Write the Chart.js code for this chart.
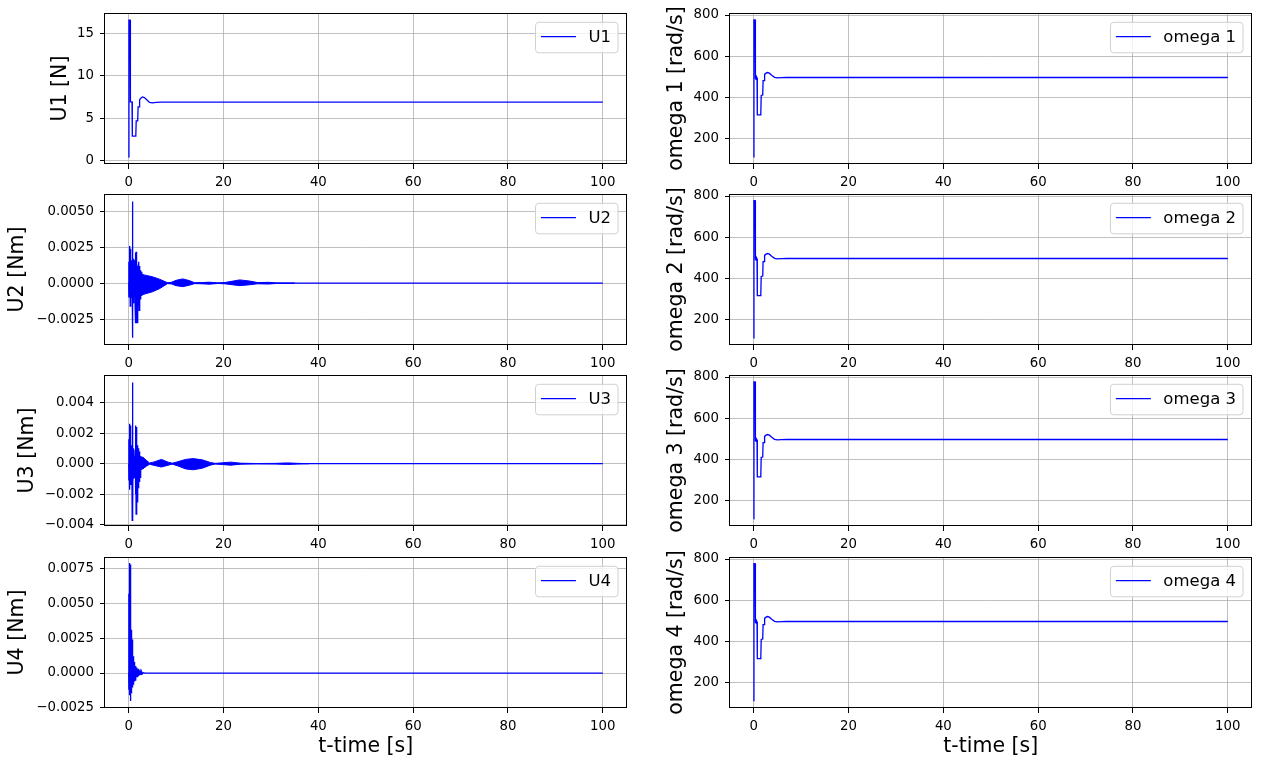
<!DOCTYPE html>
<html>
<head>
<meta charset="utf-8">
<script src="https://cdn.jsdelivr.net/npm/chart.js@4.4.1/dist/chart.umd.min.js"></script>
<style>
  body { margin: 0; background: #fff; }
  #fig { position: relative; width: 1264px; height: 761px; overflow: hidden; background: #fff; }
  #fig canvas { position: absolute; }
</style>
</head>
<body>
<div id="fig">
  <canvas id="u1"></canvas>
  <canvas id="u2"></canvas>
  <canvas id="u3"></canvas>
  <canvas id="u4"></canvas>
  <canvas id="w1"></canvas>
  <canvas id="w2"></canvas>
  <canvas id="w3"></canvas>
  <canvas id="w4"></canvas>
</div>
<script>
// shared time ticks
const TIME_TICKS = [0, 20, 40, 60, 80, 100];

// y ticks per panel
const U1_TICKS = [0, 5, 10, 15];
const U2_TICKS = [-0.0025, 0, 0.0025, 0.005];
const U3_TICKS = [-0.004, -0.002, 0, 0.002, 0.004];
const U4_TICKS = [-0.0025, 0, 0.0025, 0.005, 0.0075];
const OMEGA_TICKS = [200, 400, 600, 800];

// thrust U1 [N]  (t, value)
const U1 = [[0, 0.42], [0.05, 16.6], [0.3, 16.6], [0.36, 6.95], [0.7, 6.95], [0.76, 2.9], [1.5, 2.9],
  [1.58, 4.7], [1.9, 4.7], [1.98, 6.35], [2.2, 6.35], [2.3, 7.2], [2.6, 7.4], [2.9, 7.52], [3.3, 7.45],
  [3.8, 7.2], [4.4, 6.88], [5.0, 6.83], [5.8, 6.88], [7, 6.92], [100, 6.92]];

// torque U2 [Nm] spikes (t, value)
const U2 = [[0, 0], [0.02, 0.0015], [0.06, -0.001], [0.1, 0.0014], [0.14, -0.0008], [0.18, 0.0012],
  [0.22, -0.0005], [0.27, 0.0026], [0.32, -0.0016], [0.37, 0.0024], [0.42, -0.0012], [0.47, 0.0008],
  [0.52, -0.001], [0.57, 0.0006], [0.62, -0.0005], [0.7, 0.0016], [0.75, -0.0038], [0.8, 0.0057],
  [0.85, -0.0032], [0.9, 0.0015], [0.95, -0.0012], [1.0, 0.0008], [1.05, -0.0014], [1.1, 0.0017],
  [1.15, -0.0008], [1.2, 0.0016], [1.25, -0.0004], [1.3, 0.001], [1.36, -0.0017], [1.42, 0.0021],
  [1.48, -0.0028], [1.54, 0.0022], [1.6, -0.0028], [1.66, 0.0018], [1.72, -0.0022], [1.78, 0.0012],
  [1.84, -0.0028], [1.9, 0.0011], [1.96, -0.0018], [2.02, 0.0013], [2.08, -0.0015], [2.14, 0.0015],
  [2.2, -0.0019], [2.26, 0.0012], [2.32, -0.0012], [2.38, 0.001], [2.44, -0.0011], [2.5, 0.0009],
  [2.56, -0.001], [2.62, 0.0008], [2.68, -0.0009], [2.74, 0.0007], [2.8, -0.0009], [2.86, 0.0006],
  [2.92, -0.0008], [3.0, 0], [100, 0]];
// U2 fast oscillation envelope (t, upper, lower)
const U2_BAND = [[2.5, 0.0007, -0.00085], [3.2, 0.00058, -0.00077], [5, 0.00045, -0.0006],
  [6.5, 0.00028, -0.00038], [8.2, 0.00003, -0.00003], [9, 0.00006, -0.00005], [10, 0.0002, -0.00017],
  [11.4, 0.0003, -0.00024], [12.8, 0.00018, -0.00014], [13.9, 0.00003, -0.00003], [15.3, 0.00004, -0.00004],
  [17, 0.00007, -0.00007], [18.8, 0.00002, -0.00002], [20.2, 0.00004, -0.00004], [23.4, 0.00023, -0.00017],
  [25.5, 0.00015, -0.00011], [27.2, 0.00004, -0.00004], [29.5, 0.00006, -0.00006], [31.4, 0.00001, -0.00001],
  [35, 0, 0]];

// torque U3 [Nm] spikes (t, value)
const U3 = [[0, 0], [0.02, 0.0016], [0.06, -0.0011], [0.1, 0.0015], [0.14, -0.0009], [0.2, 0.0026],
  [0.25, -0.0017], [0.3, 0.0025], [0.35, -0.0014], [0.42, 0.0006], [0.48, -0.0009], [0.54, 0.0005],
  [0.6, -0.0007], [0.68, 0.0012], [0.74, -0.0037], [0.8, 0.0053], [0.86, -0.003], [0.92, 0.001],
  [0.98, -0.001], [1.05, 0.0006], [1.12, -0.0009], [1.2, 0.0005], [1.28, -0.0008], [1.36, 0.0009],
  [1.44, -0.002], [1.5, 0.0025], [1.56, -0.0033], [1.62, 0.0024], [1.68, -0.003], [1.74, 0.0013],
  [1.8, -0.0025], [1.86, 0.0012], [1.92, -0.0024], [1.98, 0.001], [2.04, -0.0016], [2.1, 0.0008],
  [2.16, -0.0013], [2.22, 0.0008], [2.28, -0.0012], [2.34, 0.0006], [2.4, -0.0009], [2.48, 0.0005],
  [2.56, -0.0006], [2.64, 0.0004], [2.72, -0.0004], [2.8, 0.0004], [2.9, -0.0003], [3.0, 0], [100, 0]];
const U3_BAND = [[2.0, 0.00045, -0.00035], [3.0, 0.00042, -0.00033], [3.8, 0.0002, -0.00015],
  [4.4, 0.00004, -0.00004], [5.2, 0.0001, -0.0001], [6.9, 0.00028, -0.00022], [8.3, 0.0001, -0.0001],
  [9.2, 0.00003, -0.00003], [10.3, 0.00012, -0.00014], [12, 0.00028, -0.00034], [13.6, 0.00033, -0.0004],
  [15.5, 0.00025, -0.0003], [17.2, 0.00008, -0.0001], [18.2, 0.00002, -0.00002], [19.5, 0.00005, -0.00005],
  [21.5, 0.0001, -0.0001], [23.7, 0.00003, -0.00003], [27, 0.00001, -0.00001], [31, 0.00002, -0.00002],
  [33.5, 0.00005, -0.00005], [35.7, 0.00002, -0.00002], [38, 0, 0]];

// torque U4 [Nm] (t, value)
const U4 = [[0, 0], [0.02, 0.0057], [0.05, -0.0012], [0.08, 0.0056], [0.11, -0.0013], [0.14, 0.005],
  [0.18, -0.0009], [0.22, 0.0079], [0.26, -0.0016], [0.3, 0.0078], [0.34, -0.002], [0.38, 0.0065],
  [0.42, -0.0018], [0.46, 0.0031], [0.5, -0.0014], [0.55, 0.0031], [0.6, -0.0012], [0.65, 0.003],
  [0.7, -0.001], [0.76, 0.0024], [0.82, -0.0009], [0.88, 0.0012], [0.94, -0.0008], [1.0, 0.0012],
  [1.06, -0.0007], [1.12, 0.0008], [1.2, -0.0006], [1.28, 0.0006], [1.36, -0.0005], [1.44, 0.0005],
  [1.52, -0.0004], [1.6, 0.0004], [1.7, -0.0003], [1.8, 0.0003], [1.9, -0.0003], [2.0, 0.0003],
  [2.1, -0.0002], [2.2, 0.0002], [2.3, -0.00015], [2.45, 0.00012], [2.6, -0.0001], [2.75, 0.00008],
  [2.9, -0.00005], [3.1, 0.00003], [3.4, 0], [100, 0]];

// rotor speeds [rad/s] (t, value)
const OMEGA_1 = [[0, 111], [0.05, 776], [0.3, 776], [0.36, 492], [0.5, 488], [0.55, 500], [0.65, 500],
  [0.7, 495], [0.76, 316], [1.4, 316], [1.5, 322], [1.58, 410], [1.9, 412], [1.98, 482], [2.2, 482],
  [2.3, 512], [2.6, 518], [2.9, 521], [3.3, 518], [3.8, 508], [4.4, 498], [5.0, 495], [5.8, 496],
  [7, 497], [100, 497]];
const OMEGA_2 = [[0, 111], [0.05, 777], [0.3, 777], [0.36, 493], [0.5, 489], [0.55, 500], [0.65, 500],
  [0.7, 495], [0.76, 317], [1.4, 317], [1.5, 323], [1.58, 410], [1.9, 412], [1.98, 482], [2.2, 482],
  [2.3, 512], [2.6, 518], [2.9, 521], [3.3, 518], [3.8, 508], [4.4, 498], [5.0, 495], [5.8, 496],
  [7, 497], [100, 497]];
const OMEGA_3 = [[0, 112], [0.05, 776], [0.3, 776], [0.36, 492], [0.5, 488], [0.55, 499], [0.65, 499],
  [0.7, 495], [0.76, 316], [1.4, 316], [1.5, 322], [1.58, 411], [1.9, 412], [1.98, 482], [2.2, 482],
  [2.3, 512], [2.6, 518], [2.9, 521], [3.3, 518], [3.8, 508], [4.4, 498], [5.0, 495], [5.8, 496],
  [7, 497], [100, 497]];
const OMEGA_4 = [[0, 112], [0.05, 777], [0.3, 777], [0.36, 493], [0.5, 489], [0.55, 500], [0.65, 500],
  [0.7, 495], [0.76, 317], [1.4, 317], [1.5, 322], [1.58, 410], [1.9, 412], [1.98, 482], [2.2, 482],
  [2.3, 512], [2.6, 518], [2.9, 521], [3.3, 518], [3.8, 508], [4.4, 498], [5.0, 495], [5.8, 496],
  [7, 497], [100, 497]];

// layout of the 4x2 grid (pixels)
const ROW_TOP = [13, 194, 375, 557];
const PLOT_H = 151;
const PAD_TOP = 14; // must exceed half a tick label + tick padding, else Chart.js pushes the plot down
const COLS = [
  {x: 0, w: 640, plotLeft: 105, padRight: 13.5},
  {x: 640, w: 624, plotLeft: 90, padRight: 12.5}
];

const panels = [
  {id: 'u1', label: 'U1', ylabel: 'U1 [N]', data: U1, band: null, ticks: U1_TICKS, dec: 0, min: -0.39, max: 17.43, col: 0, row: 0, titleX: 60.2},
  {id: 'u2', label: 'U2', ylabel: 'U2 [Nm]', data: U2, band: U2_BAND, ticks: U2_TICKS, dec: 4, min: -0.00431, max: 0.00622, col: 0, row: 1, titleX: 17.7},
  {id: 'u3', label: 'U3', ylabel: 'U3 [Nm]', data: U3, band: U3_BAND, ticks: U3_TICKS, dec: 3, min: -0.00407, max: 0.00579, col: 0, row: 2, titleX: 27.2},
  {id: 'u4', label: 'U4', ylabel: 'U4 [Nm]', data: U4, band: null, ticks: U4_TICKS, dec: 4, min: -0.00251, max: 0.00833, col: 0, row: 3, titleX: 17.7},
  {id: 'w1', label: 'omega 1', ylabel: 'omega 1 [rad/s]', data: OMEGA_1, band: null, ticks: OMEGA_TICKS, dec: 0, min: 77.6, max: 809.7, col: 1, row: 0, titleX: 36.8},
  {id: 'w2', label: 'omega 2', ylabel: 'omega 2 [rad/s]', data: OMEGA_2, band: null, ticks: OMEGA_TICKS, dec: 0, min: 77.6, max: 809.7, col: 1, row: 1, titleX: 36.8},
  {id: 'w3', label: 'omega 3', ylabel: 'omega 3 [rad/s]', data: OMEGA_3, band: null, ticks: OMEGA_TICKS, dec: 0, min: 77.6, max: 809.7, col: 1, row: 2, titleX: 36.8},
  {id: 'w4', label: 'omega 4', ylabel: 'omega 4 [rad/s]', data: OMEGA_4, band: null, ticks: OMEGA_TICKS, dec: 0, min: 77.6, max: 809.7, col: 1, row: 3, titleX: 36.8}
];

const BLUE = '#0000ff';
const FONT = 'DejaVu Sans';
Chart.defaults.font.family = FONT;
Chart.defaults.font.size = 13.3;
Chart.defaults.color = '#000';

// black box round the plot area (matplotlib spines)
const frame = {
  id: 'frame',
  afterDatasetsDraw(chart) {
    const a = chart.chartArea;
    const ctx = chart.ctx;
    ctx.save();
    ctx.strokeStyle = '#000';
    ctx.lineWidth = 1;
    ctx.strokeRect(Math.round(a.left) - 0.5, Math.round(a.top) + 0.5, Math.round(a.right - a.left), Math.round(a.bottom - a.top) - 1);
    ctx.restore();
  }
};

// legend box in the upper right corner of the plot
const boxLegend = {
  id: 'boxLegend',
  afterDraw(chart) {
    const a = chart.chartArea;
    const ctx = chart.ctx;
    const ds = chart.data.datasets[0];
    ctx.save();
    ctx.font = '16.5px "' + FONT + '"';
    const tw = ctx.measureText(ds.label).width;
    const w = 5.4 + 35 + 12.5 + tw + 7;
    const h = 30.5;
    const x = a.right - 8.5 - w;
    const y = a.top + 9.3;
    ctx.beginPath();
    ctx.roundRect(x, y, w, h, 3.3);
    ctx.fillStyle = 'rgba(255,255,255,0.8)';
    ctx.fill();
    ctx.strokeStyle = '#d0d0d0';
    ctx.lineWidth = 1;
    ctx.stroke();
    ctx.beginPath();
    ctx.moveTo(x + 5.4, y + h / 2 - 1);
    ctx.lineTo(x + 5.4 + 35, y + h / 2 - 1);
    ctx.strokeStyle = ds.borderColor;
    ctx.lineWidth = 1.2;
    ctx.stroke();
    ctx.fillStyle = '#000';
    ctx.textBaseline = 'middle';
    ctx.fillText(ds.label, x + 5.4 + 35 + 12.5, y + h / 2);
    ctx.restore();
  }
};

function pts(arr, k) {
  return arr.map(r => ({x: r[0], y: r[k]}));
}

function fmt(v, dec) {
  return v.toFixed(dec).replace('-', '\u2212');
}

panels.forEach(p => {
  const col = COLS[p.col];
  const last = p.row === 3;
  const xh = last ? 51 : 28; // x axis height, bottom row also holds the title
  const canvas = document.getElementById(p.id);
  canvas.width = col.w;
  canvas.height = PAD_TOP + PLOT_H + xh;
  canvas.style.left = col.x + 'px';
  canvas.style.top = (ROW_TOP[p.row] - PAD_TOP) + 'px';

  const padLeft = p.titleX - 12.3;
  const datasets = [{
    label: p.label,
    data: pts(p.data, 1),
    borderColor: BLUE,
    borderWidth: 1.3,
    pointRadius: 0,
    tension: 0,
    fill: false
  }];
  if (p.band) {
    // dense oscillation drawn as a filled envelope
    datasets.push({data: pts(p.band, 1), borderColor: BLUE, borderWidth: 1, pointRadius: 0, tension: 0, fill: '+1', backgroundColor: BLUE});
    datasets.push({data: pts(p.band, 2), borderColor: BLUE, borderWidth: 1, pointRadius: 0, tension: 0, fill: false});
  }

  new Chart(canvas.getContext('2d'), {
    type: 'line',
    data: {datasets: datasets},
    options: {
      responsive: false,
      animation: false,
      events: [],
      layout: {padding: {top: PAD_TOP, left: padLeft, right: col.padRight, bottom: 0}},
      plugins: {legend: {display: false}, tooltip: {enabled: false}},
      scales: {
        x: {
          type: 'linear',
          min: -5,
          max: 105,
          afterBuildTicks: s => { s.ticks = TIME_TICKS.map(v => ({value: v})); },
          afterFit: s => { s.height = xh; },
          ticks: {autoSkip: false, maxRotation: 0, padding: 5.5, callback: v => String(v)},
          grid: {color: '#b0b0b0', lineWidth: 0.8, tickColor: '#000', tickLength: 5, tickWidth: 1},
          border: {display: false},
          title: {display: last, text: 't-time [s]', font: {size: 20.5}, padding: 0, color: '#000'}
        },
        y: {
          type: 'linear',
          min: p.min,
          max: p.max,
          afterBuildTicks: s => { s.ticks = p.ticks.map(v => ({value: v})); },
          afterFit: s => { s.width = col.plotLeft - padLeft; },
          ticks: {autoSkip: false, padding: 6, callback: v => fmt(v, p.dec)},
          grid: {color: '#b0b0b0', lineWidth: 0.8, tickColor: '#000', tickLength: 5, tickWidth: 1},
          border: {display: false},
          title: {display: true, text: p.ylabel, font: {size: 20.5}, padding: 0, color: '#000'}
        }
      }
    },
    plugins: [frame, boxLegend]
  });
});
</script>
</body>
</html>
